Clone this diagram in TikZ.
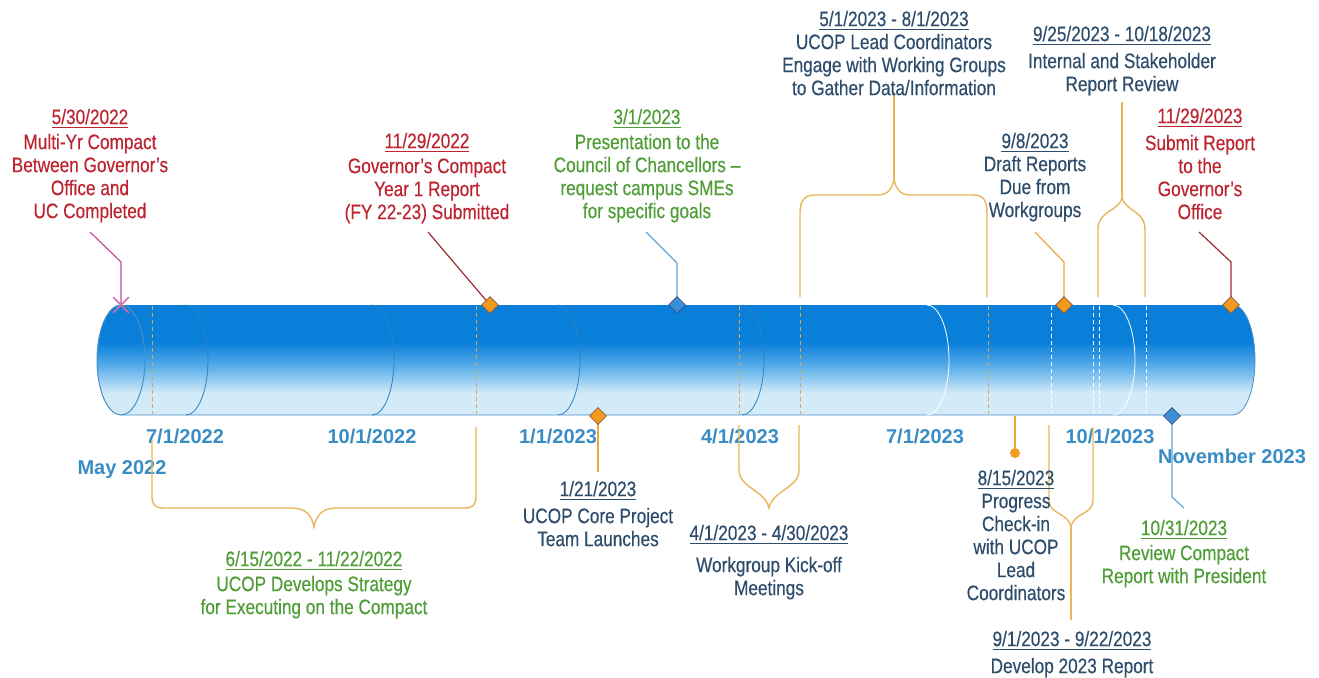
\documentclass[tikz,border=0pt]{standalone}
\usepackage{fontspec}
\setmainfont{Liberation Sans}[FakeStretch=0.82, FakeBold=0.35]
\newfontfamily\axisfont{Liberation Sans}
\usetikzlibrary{shapes.geometric,shapes.misc}
\definecolor{tubedark}{HTML}{0A7FDA}
\definecolor{tubemid}{HTML}{5AAEEA}
\definecolor{tubelight}{HTML}{D3EAF9}
\definecolor{tubeedge}{HTML}{4A90C6}
\definecolor{ringblue}{HTML}{2F7FC0}
\definecolor{axisblue}{HTML}{3A8DC4}
\definecolor{evred}{HTML}{BD2430}
\definecolor{evgreen}{HTML}{4F9D36}
\definecolor{evblue}{HTML}{2E4D6D}
\definecolor{bracegold}{HTML}{E9B659}
\definecolor{qorange}{HTML}{D8A657}
\definecolor{mkorange}{HTML}{F39A1E}
\definecolor{mkbrown}{HTML}{8B5C3C}
\definecolor{mknavy}{HTML}{3B4F86}
\definecolor{mkblue}{HTML}{3B8FD6}
\definecolor{pinkline}{HTML}{C24C9B}
\definecolor{redline}{HTML}{9C2A35}
\definecolor{lblue}{HTML}{5FA8D6}
\definecolor{orangeline}{HTML}{EDA63A}
\pgfdeclareverticalshading{tube}{100bp}{color(0bp)=(tubelight); color(35bp)=(tubelight); color(47bp)=(tubemid); color(58bp)=(tubedark); color(100bp)=(tubedark)}

\begin{document}
\begin{tikzpicture}[x=0.5pt, y=-0.5pt,
  evt/.style={align=center, inner sep=0pt, anchor=north, font=\fontsize{10.5}{11.5}\selectfont},
  axislbl/.style={inner sep=0pt, font=\axisfont\fontsize{10}{12}\selectfont\bfseries, text=axisblue},
  ring/.style={draw=ringblue, line width=0.4pt},
  qline/.style={dash pattern=on 2pt off 1.5pt, line width=0.4pt},
  brace/.style={draw=bracegold, line width=0.7pt},
  leader/.style={line width=0.6pt},
  orangemk/.style={diamond, draw=mkbrown, fill=mkorange, line width=0.4pt, minimum size=8.5pt, inner sep=0pt},
  bluemk/.style={diamond, draw=mknavy, fill=mkblue, line width=0.4pt, minimum size=8.5pt, inner sep=0pt},
  crossmk/.style={cross out, draw=pinkline!80, line width=0.8pt, minimum size=7pt, inner sep=0pt}
]
\useasboundingbox[fill=white] (0,0) rectangle (1319,677);

% tube
\shade[shading=tube] (121,305) -- (1233,305) arc[start angle=-90, end angle=90, x radius=22, y radius=55]
  -- (121,415) arc[start angle=90, end angle=270, x radius=24, y radius=55] -- cycle;
\draw[draw=tubeedge, line width=0.4pt] (121,415) -- (1233,415) arc[start angle=90, end angle=-90, x radius=22, y radius=55];
\draw[draw=tubeedge, line width=0.5pt] (121,360) ellipse [x radius=24, y radius=55];
\foreach \cx in {186,372,558,742}
  \draw[ring] (\cx,305) arc[start angle=-90, end angle=90, x radius=22, y radius=55];
\foreach \cx in {927,1113}
  \draw[ring, draw=white] (\cx,305) arc[start angle=-90, end angle=90, x radius=22, y radius=55];
\foreach \qx in {152,476,739,800,988}
  \draw[qline, draw=qorange] (\qx,306) -- (\qx,414);
\foreach \qx in {1051,1093,1099,1146}
  \draw[qline, draw=white] (\qx,306) -- (\qx,414);

% quarter labels
\node[axislbl] (q1) at (185,436) {7/1/2022};
\node[axislbl] (q2) at (372,436) {10/1/2022};
\node[axislbl] (q3) at (558,436) {1/1/2023};
\node[axislbl] (q4) at (740,436) {4/1/2023};
\node[axislbl] (q5) at (925,436) {7/1/2023};
\node[axislbl] (q6) at (1110,436) {10/1/2023};
\node[axislbl] (start) at (122,470) {May 2022};
\node[axislbl] (finish) at (1232,456) {November 2023};

% braces
\coordinate (b0615) at (314,527);
\coordinate (b0401) at (769,508);
\coordinate (b0901) at (1071,527);
\coordinate (b0501) at (894,178);
\coordinate (b0925) at (1122,198);
\draw[brace] (152,440) -- (152,496) .. controls (152,505) and (155,508) .. (164,508) -- (292,508)
  .. controls (305,508) and (312,515) .. (b0615) .. controls (316,515) and (323,508) .. (336,508)
  -- (464,508) .. controls (473,508) and (476,505) .. (476,496) -- (476,427);
\draw[brace] (739,425) -- (739,470) .. controls (739,488) and (765,490) .. (b0401)
  .. controls (773,490) and (799,488) .. (799,470) -- (799,425);
\draw[brace] (1049,425) -- (1049,500) .. controls (1049,515) and (1068,512) .. (b0901)
  .. controls (1074,512) and (1093,515) .. (1093,500) -- (1093,427);
\draw[brace] (b0901) -- ++(0,93);
\draw[brace] (800,297) -- (800,213) .. controls (800,200) and (805,195) .. (815,195) -- (878,195)
  .. controls (888,195) and (893,188) .. (b0501) .. controls (895,188) and (900,195) .. (910,195)
  -- (973,195) .. controls (983,195) and (987,200) .. (987,213) -- (987,297);
\draw[brace] (b0501) -- ++(0,-86);
\draw[brace] (1098,297) -- (1098,230) .. controls (1098,210) and (1118,212) .. (b0925)
  .. controls (1126,212) and (1145,210) .. (1145,230) -- (1145,297);
\draw[brace] (b0925) -- ++(0,-96);

% leaders
\coordinate (p0530) at (121,305);   \coordinate (l0530) at (90,232);
\coordinate (p1129a) at (490,305);  \coordinate (l1129a) at (428,232);
\coordinate (p0301) at (677,305);   \coordinate (l0301) at (646,232);
\coordinate (p0908) at (1064,305);  \coordinate (l0908) at (1035,232);
\coordinate (p1129b) at (1231,305); \coordinate (l1129b) at (1199,232);
\coordinate (p0121) at (598,416);   \coordinate (l0121) at (598,472);
\coordinate (p1031) at (1172,416);  \coordinate (l1031) at (1184,508);
\coordinate (p0815) at (1015,416);
\draw[leader, draw=pinkline] (p0530) -- ++(0,-43) -- (l0530);
\draw[leader, draw=redline] (p1129a) -- (l1129a);
\draw[leader, draw=lblue] (p0301) -- ++(0,-42) -- (l0301);
\draw[leader, draw=orangeline] (p0908) -- ++(0,-43) -- (l0908);
\draw[leader, draw=redline] (p1129b) -- ++(0,-43) -- (l1129b);
\draw[leader, draw=orangeline] (p0121) -- (l0121);
\draw[leader, draw=lblue] (p1031) -- ++(0,81) -- (l1031);
\node[circle, fill=mkorange, minimum size=5pt, inner sep=0pt] (m0815) at (1015,453) {};
\draw[leader, draw=orangeline] (p0815) -- (m0815);

% markers
\node[crossmk] (m0530) at (p0530) {};
\node[orangemk] (m1129a) at (p1129a) {};
\node[bluemk] (m0301) at (p0301) {};
\node[orangemk] (m0908) at (p0908) {};
\node[orangemk] (m1129b) at (p1129b) {};
\node[orangemk] (m0121) at (p0121) {};
\node[bluemk] (m1031) at (p1031) {};

% events
\node[evt, text=evred] (e0530) at (90,108.5) {\underline{5/30/2022}\\[1pt]Multi-Yr Compact\\Between Governor's\\Office and\\UC Completed};
\node[evt, text=evred] (e1129a) at (427,132.5) {\underline{11/29/2022}\\[1pt]Governor's Compact\\Year 1 Report\\(FY 22-23) Submitted};
\node[evt, text=evgreen] (e0301) at (647,108.5) {\underline{3/1/2023}\\[1pt]Presentation to the\\Council of Chancellors --\\request campus SMEs\\for specific goals};
\node[evt, text=evblue] (e0121) at (598,480.5) {\underline{1/21/2023}\\[2pt]UCOP Core Project\\Team Launches};
\node[evt, text=evblue] (e0401) at (769,524.5) {\underline{4/1/2023 - 4/30/2023}\\[4.5pt]Workgroup Kick-off\\Meetings};
\node[evt, text=evblue] (e0501) at (894,10.5) {\underline{5/1/2023 - 8/1/2023}\\UCOP Lead Coordinators\\Engage with Working Groups\\to Gather Data/Information};
\node[evt, text=evblue] (e0925) at (1122,25.5) {\underline{9/25/2023 - 10/18/2023}\\[2pt]Internal and Stakeholder\\Report Review};
\node[evt, text=evblue] (e0908) at (1035,132.5) {\underline{9/8/2023}\\Draft Reports\\Due from\\Workgroups};
\node[evt, text=evred] (e1129b) at (1200,107.5) {\underline{11/29/2023}\\[2pt]Submit Report\\to the\\Governor's\\Office};
\node[evt, text=evblue] (e0815) at (1016,469.5) {\underline{8/15/2023}\\Progress\\Check-in\\with UCOP\\Lead\\Coordinators};
\node[evt, text=evblue] (e0901) at (1072,630.5) {\underline{9/1/2023 - 9/22/2023}\\[2pt]Develop 2023 Report};
\node[evt, text=evgreen] (e1031) at (1184,519.5) {\underline{10/31/2023}\\[1pt]Review Compact\\Report with President};
\node[evt, text=evgreen] (e0615) at (314,550.5) {\underline{6/15/2022 - 11/22/2022}\\[1pt]UCOP Develops Strategy\\for Executing on the Compact};
\end{tikzpicture}
\end{document}
